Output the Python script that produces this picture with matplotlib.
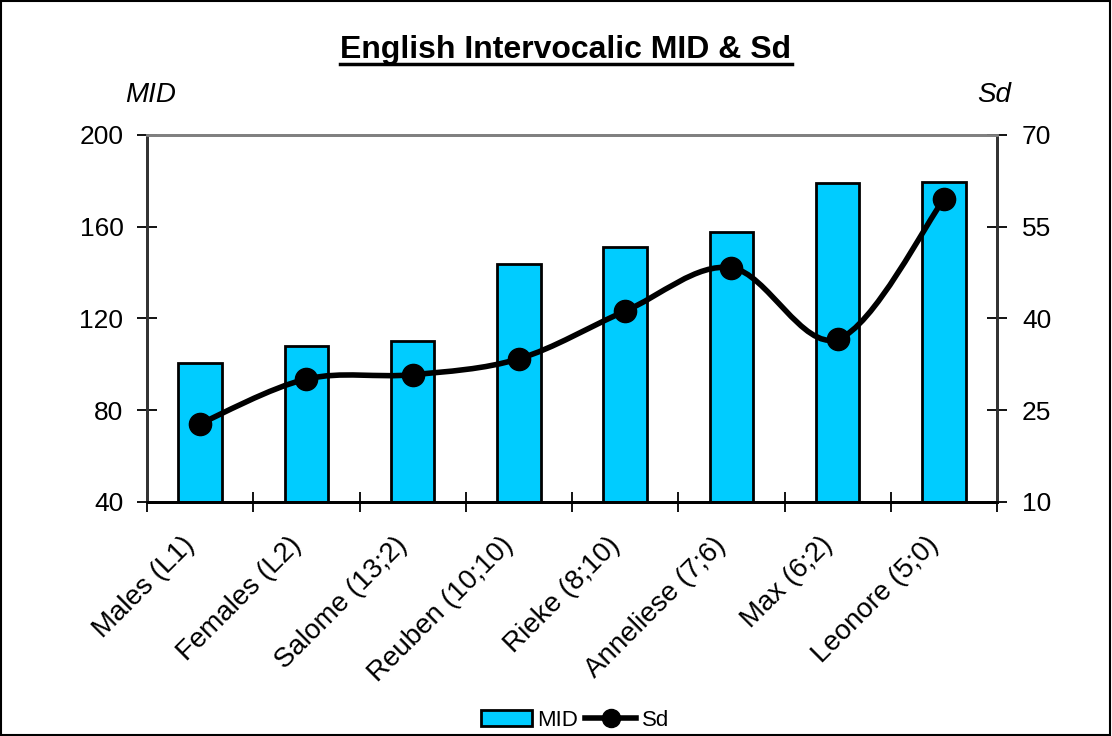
import numpy as np
import matplotlib
matplotlib.use('Agg')
import matplotlib.pyplot as plt
from matplotlib.path import Path
from matplotlib.patches import PathPatch, Rectangle
from matplotlib.lines import Line2D

plt.rcParams['font.family'] = ['Liberation Sans', 'DejaVu Sans']

speakers = ['Males (L1)', 'Females (L2)', 'Salome (13;2)', 'Reuben (10;10)',
            'Rieke (8;10)', 'Anneliese (7;6)', 'Max (6;2)', 'Leonore (5;0)']
mid = [100.6, 108, 110.2, 143.8, 151.2, 157.7, 179.1, 179.5]
sd = [22.8, 30.1, 30.8, 33.4, 41.2, 48.3, 36.6, 59.5]

fig = plt.figure(figsize=(11.12, 7.36), dpi=100)
ax = fig.add_axes([0.1322, 0.318, 0.7644, 0.4986])
ax2 = ax.twinx()

x = np.arange(len(speakers))
ax.bar(x, mid, width=0.41, color='#00ccff', edgecolor='black', linewidth=2, zorder=2)
ax.set_xlim(-0.5, len(speakers) - 0.5)
ax.set_ylim(40, 200)
ax.set_yticks([40, 80, 120, 160, 200])
ax2.set_ylim(10, 70)
ax2.set_yticks([10, 25, 40, 55, 70])

# smoothed line (Bezier through the points, like a spreadsheet smooth line)
verts = [(x[0], sd[0])]
codes = [Path.MOVETO]
n = len(sd)
for i in range(n - 1):
    p0 = (x[max(i - 1, 0)], sd[max(i - 1, 0)])
    p1 = (x[i], sd[i])
    p2 = (x[i + 1], sd[i + 1])
    p3 = (x[min(i + 2, n - 1)], sd[min(i + 2, n - 1)])
    c1 = (p1[0] + (p2[0] - p0[0]) / 6, p1[1] + (p2[1] - p0[1]) / 6)
    c2 = (p2[0] - (p3[0] - p1[0]) / 6, p2[1] - (p3[1] - p1[1]) / 6)
    verts += [c1, c2, p2]
    codes += [Path.CURVE4] * 3
ax2.add_patch(PathPatch(Path(verts, codes), facecolor='none', edgecolor='black',
                        linewidth=4, zorder=3))
ax2.plot(x, sd, 'o', color='black', markersize=16, zorder=4)

ax.set_xticks(x)
ax.set_xticklabels(speakers, rotation=45, ha='right', va='bottom', rotation_mode='anchor',
                   fontsize=20)
ax.set_xticks(np.arange(-0.5, len(speakers)), minor=True)
ax.tick_params(axis='x', which='major', length=0, pad=35)
ax.tick_params(axis='x', which='minor', direction='inout', length=14, width=1.3)
ax.tick_params(axis='y', direction='inout', length=14, width=1.3, labelsize=19, pad=10)
ax2.tick_params(axis='y', direction='inout', length=14, width=1.3, labelsize=19, pad=11)

for a in (ax, ax2):
    a.spines['top'].set_color('#808080')
    a.spines['top'].set_linewidth(2)
    a.spines['left'].set_linewidth(2)
    a.spines['right'].set_linewidth(2)
    a.spines['bottom'].set_linewidth(2)
    a.spines['left'].set_color('#333333')
    a.spines['right'].set_color('#333333')

fig.text(0.1124, 1 - 95 / 736, 'MID', fontsize=20, style='italic', va='center')
fig.text(0.879, 1 - 95 / 736, 'Sd', fontsize=20, style='italic', va='center')
fig.text(565 / 1112, 1 - 50 / 736, 'English Intervocalic MID & Sd', fontsize=23,
         fontweight='bold', ha='center', va='center')
fig.add_artist(Line2D([340 / 1112, 792 / 1112], [1 - 64 / 736, 1 - 64 / 736],
                      color='black', linewidth=2.5))

handles = [Rectangle((0, 0), 1, 1, facecolor='#00ccff', edgecolor='black', linewidth=2),
           Line2D([], [], color='black', linewidth=4, marker='o', markersize=13)]
fig.legend(handles, ['MID', 'Sd'], loc='center', bbox_to_anchor=(575 / 1112, 1 - 720 / 736),
           ncol=2, frameon=False, fontsize=16, handlelength=2.3, handleheight=0.75,
           handletextpad=0.25, columnspacing=0.3, borderpad=0.2)

fig.add_artist(Rectangle((0.001, 0.001), 0.997, 0.998, transform=fig.transFigure,
                         facecolor='none', edgecolor='black', linewidth=1.5))

fig.savefig('out.png', dpi=100)
